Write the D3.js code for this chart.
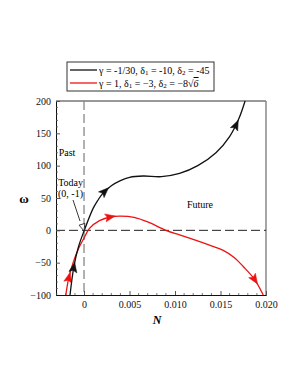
<!DOCTYPE html>
<html>
<head>
<meta charset="utf-8">
<script src="https://cdn.jsdelivr.net/npm/d3@7"></script>
<style>
  body { margin: 0; background: #fff; }
  text { font-family: "Liberation Serif", "DejaVu Serif", serif; }
</style>
</head>
<body>
<div id="chart"></div>
<script>
const width = 298, height = 385;
const margin = { left: 56, right: 32, top: 101, bottom: 90 };

// black curve: gamma = -1/30, d1 = -10, d2 = -45
const blackN = [-0.00154, -0.0011, -0.0006, 0, 0.001, 0.0015, 0.002, 0.003, 0.004, 0.005, 0.0065, 0.0085, 0.0105, 0.0125, 0.0145, 0.016, 0.017, 0.0177];
const blackW = [-100, -55, -25, -1, 34, 46, 56, 69, 77, 82, 84, 83, 88, 100, 120, 145, 172, 200];
// red curve: gamma = 1, d1 = -3, d2 = -8 sqrt6
const redN = [-0.002, -0.0017, -0.0012, -0.0006, 0, 0.0006, 0.0017, 0.003, 0.004, 0.0055, 0.007, 0.009, 0.0105, 0.0124, 0.014, 0.0153, 0.0165, 0.0175, 0.0187, 0.0197];
const redW = [-100, -75, -50, -28, -12, 3, 15, 21, 22, 20, 13, 0, -7, -16, -24, -31, -42, -56, -75, -100];
// arrow positions along each curve
const blackArrows = [[-0.0012, -55], [0.0024, 61], [0.0167, 165]];
const redArrows = [[-0.0019, -70], [0.003, 21], [0.0188, -78]];

const xTicks = [0, 0.005, 0.010, 0.015, 0.020];
const xTickLabels = ["0", "0.005", "0.010", "0.015", "0.020"];
const yTicks = [-100, -50, 0, 50, 100, 150, 200];

const svg = d3.select("#chart").append("svg")
    .attr("width", width)
    .attr("height", height);

const x = d3.scaleLinear().domain([-0.00308, 0.020]).range([margin.left, width - margin.right]);
const y = d3.scaleLinear().domain([-100, 200]).range([height - margin.bottom, margin.top]);

// frame
svg.append("line").attr("x1", x(-0.00308)).attr("x2", x(0.02)).attr("y1", y(200)).attr("y2", y(200))
    .style("stroke", "#333").style("stroke-width", 1);
svg.append("line").attr("x1", x(0.02)).attr("x2", x(0.02)).attr("y1", y(200)).attr("y2", y(-100))
    .style("stroke", "#888").style("stroke-width", 1.5);

// reference lines
svg.append("line").attr("x1", x.range()[0]).attr("x2", x.range()[1]).attr("y1", y(0)).attr("y2", y(0))
    .style("stroke", "#222").style("stroke-width", 1).style("stroke-dasharray", "9,4");
svg.append("line").attr("x1", x(0)).attr("x2", x(0)).attr("y1", y(200)).attr("y2", y(-100))
    .style("stroke", "#888").style("stroke-width", 1.3).style("stroke-dasharray", "9,4");

// axes (ticks pointing inward)
const yAxis = d3.axisLeft(y).tickValues(yTicks).tickSize(-4).tickPadding(5).tickFormat(d => d < 0 ? "\u2212" + Math.abs(d) : d);
const gy = svg.append("g").attr("transform", "translate(" + margin.left + ",0)").call(yAxis);
gy.selectAll(".tick line").style("stroke", "#555");
svg.append("g").selectAll("line").data(d3.range(-90, 200, 10).filter(v => v % 50 !== 0))
    .enter().append("line")
    .attr("x1", margin.left).attr("x2", margin.left + 2)
    .attr("y1", d => y(d)).attr("y2", d => y(d))
    .style("stroke", "#555").style("stroke-width", 0.8);

const xAxis = d3.axisBottom(x).tickValues(xTicks).tickSize(-4).tickPadding(6).tickFormat((d, i) => xTickLabels[i]);
const gx = svg.append("g").attr("transform", "translate(0," + (height - margin.bottom) + ")").call(xAxis);
gx.selectAll(".tick line").style("stroke", "#555");
svg.append("g").selectAll("line").data(d3.range(-3, 20, 1).filter(v => v % 5 !== 0))
    .enter().append("line")
    .attr("x1", d => x(d / 1000)).attr("x2", d => x(d / 1000))
    .attr("y1", height - margin.bottom).attr("y2", height - margin.bottom - 2)
    .style("stroke", "#555").style("stroke-width", 0.8);

[gx, gy].forEach(g => {
    g.attr("font-family", null);
    g.select(".domain").style("stroke", "#111");
    g.selectAll("text").style("font-size", "10px").style("fill", "#111");
});

// curves
const line = d3.line().x(d => x(d[0])).y(d => y(d[1])).curve(d3.curveCatmullRom.alpha(0.5));

function drawCurve(ns, ws, arrows, color) {
    const pts = ns.map((n, i) => [n, ws[i]]);
    const path = svg.append("path")
        .datum(pts)
        .attr("d", line)
        .style("fill", "none")
        .style("stroke", color)
        .style("stroke-width", 1.3);
    const node = path.node();
    const total = node.getTotalLength();
    arrows.forEach(a => {
        const ax = x(a[0]), ay = y(a[1]);
        let best = 0, bestD = Infinity;
        for (let l = 0; l <= total; l += 0.5) {
            const p = node.getPointAtLength(l);
            const dd = (p.x - ax) * (p.x - ax) + (p.y - ay) * (p.y - ay);
            if (dd < bestD) { bestD = dd; best = l; }
        }
        const p0 = node.getPointAtLength(Math.max(0, best - 2));
        const p1 = node.getPointAtLength(Math.min(total, best + 2));
        const ang = Math.atan2(p1.y - p0.y, p1.x - p0.x) * 180 / Math.PI;
        const tip = node.getPointAtLength(best);
        svg.append("path")
            .attr("d", "M4,0 L-6,-4 L-4,0 L-6,4 Z")
            .attr("transform", "translate(" + tip.x + "," + tip.y + ") rotate(" + ang + ")")
            .style("fill", color)
            .style("stroke", color)
            .style("stroke-width", 0.5);
    });
}

drawCurve(redN, redW, redArrows, "#ee1111");
drawCurve(blackN, blackW, blackArrows, "#111");

// annotations
svg.append("text").attr("x", 67).attr("y", 156).attr("text-anchor", "middle")
    .style("font-size", "10px").text("Past");
svg.append("text").attr("x", 83).attr("y", 186).attr("text-anchor", "end")
    .style("font-size", "10px").text("Today");
svg.append("text").attr("x", 83).attr("y", 197).attr("text-anchor", "end")
    .style("font-size", "10px").text("(0, -1)");
svg.append("text").attr("x", 200).attr("y", 208).attr("text-anchor", "middle")
    .style("font-size", "10px").text("Future");

// pointer to today
svg.append("line").attr("x1", 73).attr("y1", 200).attr("x2", 80).attr("y2", 221)
    .style("stroke", "#222").style("stroke-width", 0.9);
svg.append("path")
    .attr("d", "M0,0 L-7,-3 L-7,3 Z")
    .attr("transform", "translate(" + x(0) + "," + y(-1) + ") rotate(" + (Math.atan2(29, 9) * 180 / Math.PI) + ")")
    .style("fill", "#fff").style("stroke", "#222").style("stroke-width", 0.8);

// axis titles
svg.append("text").attr("x", 24).attr("y", 203).attr("text-anchor", "middle")
    .style("font-size", "13px").style("font-weight", "bold").text("ω");
svg.append("text").attr("x", 157).attr("y", 324).attr("text-anchor", "middle")
    .style("font-size", "12px").style("font-weight", "bold").style("font-style", "italic").text("N");

// legend
const legendX = 67, legendY = 62;
svg.append("rect").attr("x", legendX).attr("y", legendY).attr("width", 147).attr("height", 29)
    .style("fill", "#fff").style("stroke", "#333").style("stroke-width", 1);

const legendColors = ["#111", "#ee1111"];
legendColors.forEach((c, i) => {
    svg.append("line").attr("x1", legendX + 3).attr("x2", legendX + 30)
        .attr("y1", legendY + 8 + i * 13).attr("y2", legendY + 8 + i * 13)
        .style("stroke", c).style("stroke-width", 1.3);
});

function legendText(row, parts) {
    const t = svg.append("text").attr("x", legendX + 32).attr("y", legendY + 12 + row * 13)
        .style("font-size", "10px");
    parts.forEach(p => {
        const s = t.append("tspan").text(p.t);
        if (p.sub) s.style("font-size", "7px").attr("dy", 1);
        if (p.up) s.attr("dy", -1);
        if (p.over) s.style("text-decoration", "overline").style("font-style", "italic");
    });
}
legendText(0, [{ t: "γ = -1/30, δ" }, { t: "1", sub: true }, { t: " = -10, δ", up: true }, { t: "2", sub: true }, { t: " = -45", up: true }]);
legendText(1, [{ t: "γ = 1, δ" }, { t: "1", sub: true }, { t: " = −3, δ", up: true }, { t: "2", sub: true }, { t: " = −8√", up: true }, { t: "6", over: true }]);
</script>
</body>
</html>
